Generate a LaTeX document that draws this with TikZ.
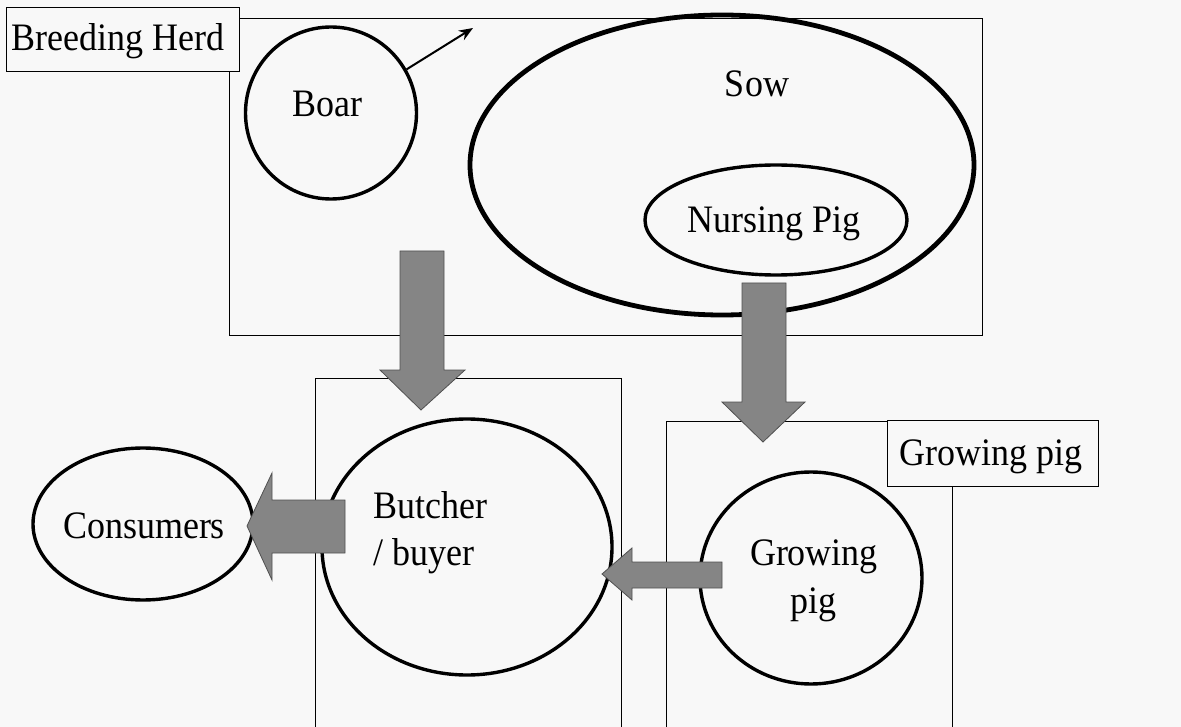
\documentclass[tikz,border=0pt]{standalone}
\usepackage{fontspec}
\setmainfont{Liberation Serif}
\usetikzlibrary{shapes.geometric,arrows.meta}
\definecolor{arrowgray}{HTML}{858585}
\definecolor{arrowedge}{HTML}{505050}
\definecolor{paper}{HTML}{F8F8F8}
\newcommand{\tall}[1]{\scalebox{1}[1.08]{#1}}
\tikzset{
  lbl/.style={font=\fontsize{36}{47}\selectfont, inner sep=0pt, anchor=base},
  frame/.style={draw=black, line width=1.4pt, anchor=north west, inner sep=0pt},
  tag/.style={frame, fill=paper},
  oval/.style={draw=black, ellipse, line width=3.4pt, inner sep=0pt},
  fat/.style={fill=arrowgray, draw=arrowedge, line width=0.8pt, line join=miter},
  thin arrow/.style={line width=2pt, -{Stealth[length=14pt,width=11pt]}}
}
\begin{document}
\begin{tikzpicture}[x=1pt,y=-1pt]
\useasboundingbox[fill=paper] (0,0) rectangle (1181,727);

% boxes
\node[frame, minimum width=753pt, minimum height=317pt] (herdbox) at (229,18) {};
\node[frame, minimum width=306pt, minimum height=380pt] (butcherbox) at (315,378) {};
\node[frame, minimum width=286pt, minimum height=340pt] (growbox) at (666,421) {};

% ellipses
\node[oval, minimum width=171pt, minimum height=172pt] (boar) at (331,113) {};
\node[oval, line width=4.8pt, minimum width=504pt, minimum height=300pt] (sow) at (722,165) {};
\node[oval, minimum width=262pt, minimum height=110pt] (nursing) at (776,220) {};
\node[oval, minimum width=220pt, minimum height=152pt] (consumers) at (143,524) {};
\node[oval, minimum width=290pt, minimum height=256pt] (butcher) at (467,547) {};
\node[oval, minimum width=222pt, minimum height=212pt] (growing) at (811,578) {};

% label tags
\node[tag, minimum width=233pt, minimum height=64pt] (herdtag) at (6,7) {};
\node[tag, minimum width=211pt, minimum height=66pt] (growtag) at (887,420) {};

% texts
\node[lbl] (herdtxt) at (118,51) {\tall{Breeding Herd}};
\node[lbl] (boartxt) at (327,117) {\tall{Boar}};
\node[lbl] (sowtxt) at (757,97) {\tall{Sow}};
\node[lbl] (nursingtxt) at (774,233) {\tall{Nursing Pig}};
\node[lbl] (constxt) at (144,538) {\tall{Consumers}};
\node[lbl, anchor=base west] (buttxt1) at (373,518) {\tall{Butcher}};
\node[lbl, anchor=base west] (buttxt2) at (373,565) {\tall{/ buyer}};
\node[lbl] (growtxt1) at (814,565) {\tall{Growing}};
\node[lbl] (growtxt2) at (813,613) {\tall{pig}};
\node[lbl] (growtagtxt) at (991,465) {\tall{Growing pig}};

% small arrow from boar
\coordinate (boartip) at (473,28);
\draw[thin arrow] (boar.30) -- (boartip);

% fat arrows
\draw[fat] (400,251) -- (444,251) -- (444,370) -- (465,370) -- (421,410)
  -- (380,370) -- (400,370) -- cycle;
\draw[fat] (742,283) -- (786,283) -- (786,402) -- (805,402) -- (763,442)
  -- (722,402) -- (742,402) -- cycle;
\draw[fat] (345,500) -- (345,553) -- (272,553) -- (272,580) -- (247,526)
  -- (272,473) -- (272,500) -- cycle;
\draw[fat] (722,562) -- (722,588) -- (632,588) -- (632,600) -- (602,574)
  -- (632,548) -- (632,562) -- cycle;
\end{tikzpicture}
\end{document}
